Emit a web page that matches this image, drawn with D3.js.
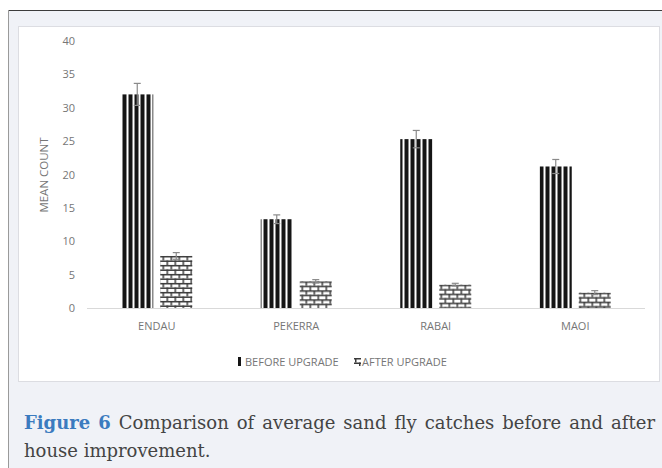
<!DOCTYPE html>
<html>
<head>
<meta charset="utf-8">
<script src="https://cdn.jsdelivr.net/npm/d3@7/dist/d3.min.js"></script>
<style>
  html, body { margin: 0; padding: 0; background: #ffffff; }
  svg { display: block; }
</style>
</head>
<body>
<svg id="chart" width="662" height="468"></svg>
<script>
// ---- data ----
const categories = ["ENDAU", "PEKERRA", "RABAI", "MAOI"];
const seriesNames = ["BEFORE UPGRADE", "AFTER UPGRADE"];
const beforeValues = [32.0, 13.3, 25.3, 21.2];
const afterValues = [7.8, 4.0, 3.5, 2.3];
const beforeErrors = [1.65, 0.65, 1.3, 1.05];
const afterErrors = [0.5, 0.25, 0.2, 0.3];
const yTicks = [0, 5, 10, 15, 20, 25, 30, 35, 40];
const yTitle = "MEAN COUNT";
const captionLabel = "Figure 6";
const captionLine1 = "Comparison of average sand fly catches before and after";
const captionLine2 = "house improvement.";

const svg = d3.select("#chart");
const defs = svg.append("defs");

// page frame
svg.append("rect").attr("x", 8).attr("y", 10).attr("width", 654).attr("height", 458).attr("fill", "#f0f2f7");
svg.append("line").attr("x1", 8).attr("x2", 662).attr("y1", 10.5).attr("y2", 10.5).attr("stroke", "#3c3c3c").attr("stroke-width", 1);
svg.append("line").attr("x1", 8.5).attr("x2", 8.5).attr("y1", 10).attr("y2", 468).attr("stroke", "#9a9a9a").attr("stroke-width", 1);

// chart panel
svg.append("rect").attr("x", 18.5).attr("y", 26.5).attr("width", 641).attr("height", 355)
  .attr("fill", "#ffffff").attr("stroke", "#dcdde2").attr("stroke-width", 1);

const font = "'Open Sans', sans-serif";
const textColor = "#767676";

// scales
const y = d3.scaleLinear().domain([0, 40]).range([308, 41]);
const x0 = d3.scaleBand().domain(categories).range([87, 645]).paddingInner(0).paddingOuter(0);
const groupW = 71;
const x1 = d3.scaleBand().domain(seriesNames).range([0, groupW]).paddingInner(0.1795).paddingOuter(0);

// y axis labels
const yAxis = d3.axisLeft(y).tickValues(yTicks).tickSize(0).tickPadding(0);
const gy = svg.append("g").attr("transform", "translate(75,0)").call(yAxis);
gy.select(".domain").remove();
gy.selectAll("text").attr("font-family", font).attr("font-size", 11).attr("fill", textColor);

// baseline
svg.append("line").attr("x1", 87).attr("x2", 645).attr("y1", y(0) + 0.5).attr("y2", y(0) + 0.5)
  .attr("stroke", "#d9d9d9").attr("stroke-width", 1);

// y title
svg.append("text").attr("transform", "translate(48,175) rotate(-90)")
  .attr("text-anchor", "middle").attr("font-family", font).attr("font-size", 11.5)
  .attr("fill", textColor).text(yTitle);

// x axis labels
const xAxis = d3.axisBottom(x0).tickSize(0).tickPadding(0);
const gx = svg.append("g").attr("transform", "translate(0,322)").call(xAxis);
gx.select(".domain").remove();
gx.selectAll("text").attr("font-family", font).attr("font-size", 11).attr("fill", textColor);

// patterns
function stripePattern(id, px, py) {
  const p = defs.append("pattern").attr("id", id).attr("patternUnits", "userSpaceOnUse")
    .attr("x", px).attr("y", py).attr("width", 6).attr("height", 10);
  p.append("rect").attr("width", 6).attr("height", 10).attr("fill", "#ffffff");
  p.append("rect").attr("width", 4).attr("height", 10).attr("fill", "#151515");
}
function brickPattern(id, px, py) {
  const p = defs.append("pattern").attr("id", id).attr("patternUnits", "userSpaceOnUse")
    .attr("x", px).attr("y", py).attr("width", 8).attr("height", 9);
  p.append("rect").attr("width", 8).attr("height", 9).attr("fill", "#ffffff");
  const c = "#3a3a3a";
  p.append("rect").attr("x", 0).attr("y", 0).attr("width", 8).attr("height", 1.5).attr("fill", c);
  p.append("rect").attr("x", 0).attr("y", 4.5).attr("width", 8).attr("height", 1.5).attr("fill", c);
  p.append("rect").attr("x", 1).attr("y", 0).attr("width", 1.5).attr("height", 4.5).attr("fill", c);
  p.append("rect").attr("x", 5).attr("y", 4.5).attr("width", 1.5).attr("height", 4.5).attr("fill", c);
}

const rows = categories.map((c, i) => ({
  cat: c,
  vals: [
    { s: seriesNames[0], v: beforeValues[i], e: beforeErrors[i], kind: "stripe" },
    { s: seriesNames[1], v: afterValues[i], e: afterErrors[i], kind: "brick" }
  ]
}));

const groups = svg.append("g").selectAll("g").data(rows).join("g")
  .attr("transform", d => `translate(${x0(d.cat) + x0.bandwidth() / 2 - groupW / 2},0)`);

groups.each(function (d, gi) {
  const g = d3.select(this);
  const offset = x0(d.cat) + x0.bandwidth() / 2 - groupW / 2;
  d.vals.forEach((v, si) => {
    const bx = x1(v.s);
    const top = y(v.v);
    const id = `pat-${gi}-${si}`;
    if (v.kind === "stripe") stripePattern(id, offset + bx, top);
    else brickPattern(id, offset + bx, top);
    g.append("rect").attr("x", bx).attr("y", top).attr("width", x1.bandwidth())
      .attr("height", y(0) - top).attr("fill", `url(#${id})`);
    // error bar
    const cx = bx + x1.bandwidth() / 2;
    const eg = g.append("g").attr("stroke", "#8a8a8a").attr("stroke-width", 1.2).attr("fill", "none");
    eg.append("line").attr("x1", cx).attr("x2", cx).attr("y1", y(v.v + v.e)).attr("y2", y(v.v - v.e));
    eg.append("line").attr("x1", cx - 3.5).attr("x2", cx + 3.5).attr("y1", y(v.v + v.e)).attr("y2", y(v.v + v.e));
    eg.append("line").attr("x1", cx - 3.5).attr("x2", cx + 3.5).attr("y1", y(v.v - v.e)).attr("y2", y(v.v - v.e));
  });
});

// legend
const legend = svg.append("g");
brickPattern("pat-legend", 354, 358);
legend.append("rect").attr("x", 238).attr("y", 357).attr("width", 3).attr("height", 9).attr("fill", "#151515");
legend.append("text").attr("x", 245).attr("y", 366).attr("font-family", font).attr("font-size", 11)
  .attr("fill", textColor).text(seriesNames[0]);
legend.append("rect").attr("x", 354).attr("y", 358).attr("width", 7).attr("height", 8).attr("fill", "url(#pat-legend)");
legend.append("text").attr("x", 362).attr("y", 366).attr("font-family", font).attr("font-size", 11)
  .attr("fill", textColor).text(seriesNames[1]);

// caption (line 1 justified)
const capFont = "'DejaVu Serif', serif";
const capSize = 18;
const words = [{ t: "Figure", bold: true }, { t: "6", bold: true }]
  .concat(captionLine1.split(" ").map(t => ({ t, bold: false })));
const capG = svg.append("g");
const left = 24, right = 655, base1 = 429, base2 = 457;
const nodes = words.map(w => capG.append("text")
  .attr("y", base1).attr("font-family", capFont).attr("font-size", capSize)
  .attr("font-weight", w.bold ? "bold" : "normal")
  .attr("fill", w.bold ? "#3b7bbf" : "#444444").text(w.t));
const widths = nodes.map(n => n.node().getComputedTextLength());
const total = d3.sum(widths);
const gap = (right - left - total) / (words.length - 1);
let cx = left;
nodes.forEach((n, i) => { n.attr("x", cx); cx += widths[i] + gap; });
capG.append("text").attr("x", left).attr("y", base2).attr("font-family", capFont).attr("font-size", capSize)
  .attr("fill", "#444444").text(captionLine2);
</script>
</body>
</html>
